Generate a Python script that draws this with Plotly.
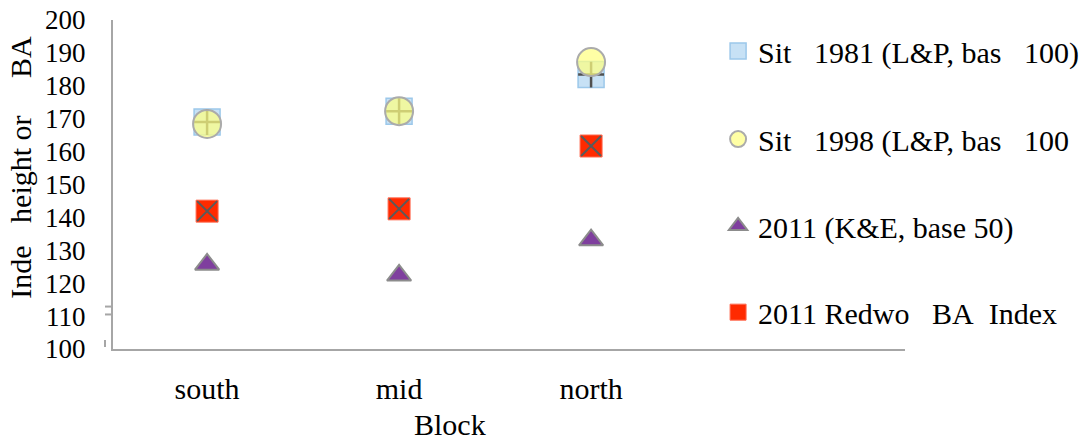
import plotly.graph_objects as go

# Blocks along the x axis
blocks = ["south", "mid", "north"]
block_pos = [0, 1, 2]

# Index values per block
site_1981 = [169.0, 172.3, 183.4]
site_1998 = [168.4, 172.3, 187.2]
ke_2011 = [125.7, 122.4, 133.1]
redwood_ba_2011 = [141.9, 142.6, 161.7]

y_ticks = [100, 110, 120, 130, 140, 150, 160, 170, 180, 190, 200]

FONT = "Liberation Serif"
AXIS_GREY = "#a6a6a6"
NB = "\u00a0"

fig = go.Figure()

# 1981 site index: light blue squares with a dark cross
fig.add_trace(go.Scatter(
    x=block_pos, y=site_1981, mode="markers", legend="legend",
    name=f"Sit{NB*3}1981 (L&P, bas{NB*3}100)",
    marker=dict(symbol="square", size=26, color="#c7e1f5",
                line=dict(color="#9cc8ea", width=1.5)),
))
fig.add_trace(go.Scatter(
    x=block_pos, y=site_1981, mode="markers", showlegend=False,
    hoverinfo="skip",
    marker=dict(symbol="cross-thin", size=18.5,
                line=dict(color="#505050", width=2.5)),
))

# 1998 site index: translucent yellow circles
fig.add_trace(go.Scatter(
    x=block_pos, y=site_1998, mode="markers", legend="legend2",
    name=f"Sit{NB*3}1998 (L&P, bas{NB*3}100",
    marker=dict(symbol="circle", size=28, color="rgba(255,255,130,0.72)",
                line=dict(color="#ababab", width=2)),
))

# 2011 K&E index: purple triangles
fig.add_trace(go.Scatter(
    x=block_pos, y=ke_2011, mode="markers", legend="legend3",
    name="2011 (K&E, base 50)",
    marker=dict(symbol="triangle-up", size=21, color="#7f3f9e",
                line=dict(color="#8c8c8c", width=2)),
))

# 2011 redwood BA index: red squares with a grey x
fig.add_trace(go.Scatter(
    x=block_pos, y=redwood_ba_2011, mode="markers", legend="legend4",
    name=f"2011 Redwo{NB*3}BA{NB*2}Index",
    marker=dict(symbol="square", size=22, color="#ff2a00",
                line=dict(color="#ff6a50", width=1)),
))
fig.add_trace(go.Scatter(
    x=block_pos, y=redwood_ba_2011, mode="markers", showlegend=False,
    hoverinfo="skip",
    marker=dict(symbol="x-thin", size=20,
                line=dict(color="#5a5a5a", width=2)),
))

# small break marks beside the value axis
shapes = []
for yv in (112.9, 110.5):
    shapes.append(dict(type="line", xref="paper", yref="y", xsizemode="pixel",
                       xanchor=0, x0=-8, x1=-1, y0=yv, y1=yv,
                       line=dict(color=AXIS_GREY, width=2)))
shapes.append(dict(type="line", xref="paper", yref="y", xsizemode="pixel",
                   xanchor=0, x0=-8, x1=-8, y0=100.6, y1=102.7,
                   line=dict(color=AXIS_GREY, width=2)))


def legend_box(yc):
    return dict(x=0.764, xanchor="left", y=yc, yanchor="middle",
                font=dict(family=FONT, size=30, color="black"),
                bgcolor="rgba(0,0,0,0)", itemsizing="trace")


fig.update_layout(
    width=1081, height=442,
    margin=dict(l=113, r=176, t=20, b=93, autoexpand=False),
    paper_bgcolor="white", plot_bgcolor="white",
    font=dict(family=FONT, size=30, color="black"),
    showlegend=True,
    legend=legend_box(0.906),
    legend2=legend_box(0.638),
    legend3=legend_box(0.374),
    legend4=legend_box(0.112),
    shapes=shapes,
    annotations=[
        dict(text="Block", xref="paper", yref="paper", x=0.4255, y=-0.231,
             xanchor="center", yanchor="middle", showarrow=False,
             font=dict(family=FONT, size=30)),
        dict(text=f"Inde{NB*3}height or{NB*5}BA", xref="paper", yref="paper",
             x=-0.117, y=0.552, xanchor="center", yanchor="middle",
             textangle=-90, showarrow=False, font=dict(family=FONT, size=30)),
    ],
)

fig.update_xaxes(
    range=[-0.49, 3.635], tickvals=block_pos, ticktext=blocks,
    showgrid=False, zeroline=False, showline=True,
    linecolor=AXIS_GREY, linewidth=2, ticks="",
    ticklabelstandoff=12,
    tickfont=dict(family=FONT, size=30),
)
fig.update_yaxes(
    range=[100, 200], tickvals=y_ticks,
    showgrid=False, zeroline=False, showline=True,
    linecolor=AXIS_GREY, linewidth=2, ticks="",
    ticklabelstandoff=20,
    tickfont=dict(family=FONT, size=27),
)

fig.write_html("out.html")
